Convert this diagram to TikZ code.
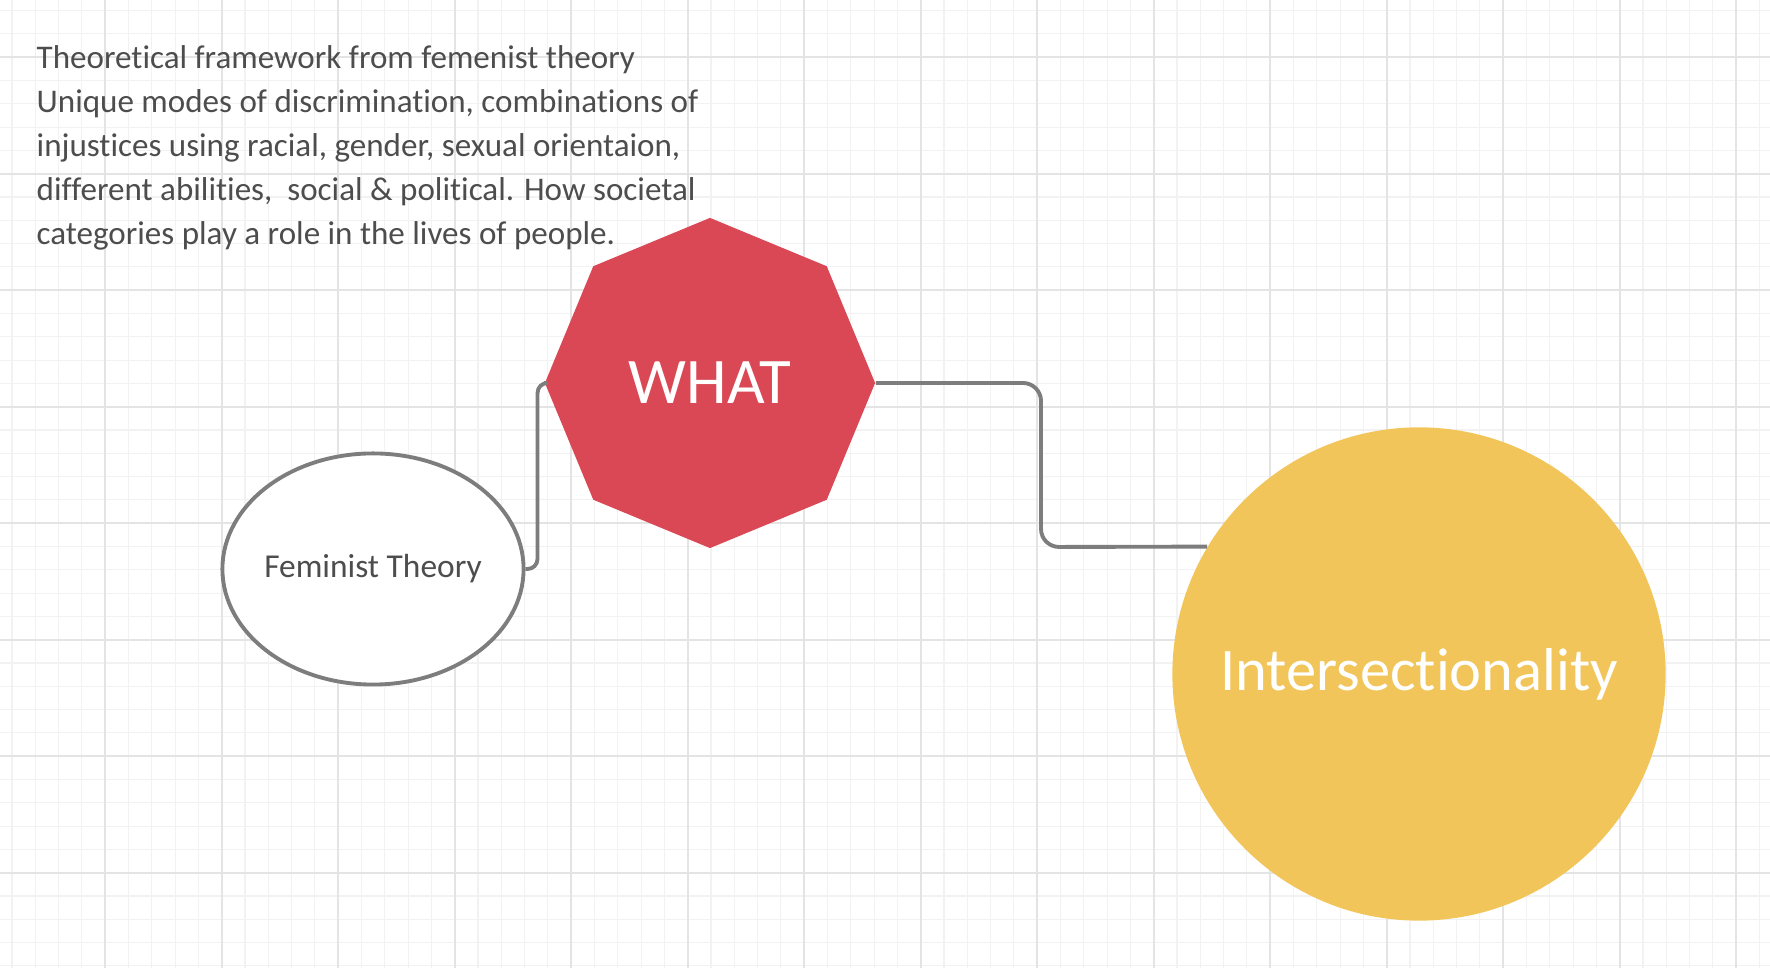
\documentclass[tikz,border=0pt]{standalone}
\usepackage{fontspec}
\setmainfont{Carlito}[Ligatures=NoCommon]
\usetikzlibrary{shapes.geometric}
\definecolor{gridminor}{RGB}{242,242,242}
\definecolor{gridmajor}{RGB}{228,228,228}
\definecolor{inkgray}{RGB}{77,77,77}
\definecolor{linegray}{RGB}{125,125,125}
\definecolor{whatred}{RGB}{217,72,84}
\definecolor{interyellow}{RGB}{242,197,90}

\begin{document}
\begin{tikzpicture}[x=0.01cm,y=-0.01cm,
    minorgrid/.style={gridminor,line width=0.3pt},
    majorgrid/.style={gridmajor,line width=0.6pt},
    conn/.style={linegray,line width=1.1pt,rounded corners=1.8mm},
    theory/.style={ellipse,draw=linegray,line width=1.1pt,fill=white,inner ysep=0,inner xsep=-4pt,
      minimum width=3.01cm,minimum height=2.31cm,text=inkgray,font=\fontsize{9.5}{12}\selectfont},
    stopsign/.style={regular polygon,regular polygon sides=8,shape border rotate=22.5,
      fill=whatred,inner sep=0,minimum size=3.3cm,text=white,font=\fontsize{18.5}{22}\selectfont},
    bigidea/.style={circle,fill=interyellow,inner sep=0,minimum size=4.93cm,
      text=white,font=\fontsize{17.2}{21}\selectfont},
  ]
  \useasboundingbox (0,0) rectangle (1770,968);
  \fill[white] (0,0) rectangle (1770,968);
  % background grid
  \foreach \i in {0,...,75} \draw[minorgrid] ({12+23.3*\i},0) -- ++(0,968);
  \foreach \j in {0,...,41} \draw[minorgrid] (0,{10.6+23.3*\j}) -- ++(1770,0);
  \foreach \i in {0,...,14} \draw[majorgrid] ({105.2+116.5*\i},0) -- ++(0,968);
  \foreach \j in {0,...,7} \draw[majorgrid] (0,{57.2+116.5*\j}) -- ++(1770,0);

  \node[anchor=north west,inner sep=0,align=left,text=inkgray,
    font=\fontsize{9.4}{12.5}\selectfont] (notes) at (36,45)
    {Theoretical framework from femenist theory\\
     Unique modes of discrimination, combinations of\\
     injustices using racial, gender, sexual orientaion,\\
     different abilities,~ social \& political. How societal\\
     categories play a role in the lives of people.};

  \node[theory] (fem) at (373,569) {Feminist Theory};
  \node[stopsign] (what) at (710,383) {WHAT};
  \node[bigidea] (inter) at (1419,674) {Intersectionality};

  \draw[conn,rounded corners=1mm] (fem.east) -- ++(12,0) |- (what.west);
  \coordinate (bend) at (1041,547);
  \draw[conn] (what.east) -| (bend) -- (inter.149);
\end{tikzpicture}
\end{document}
